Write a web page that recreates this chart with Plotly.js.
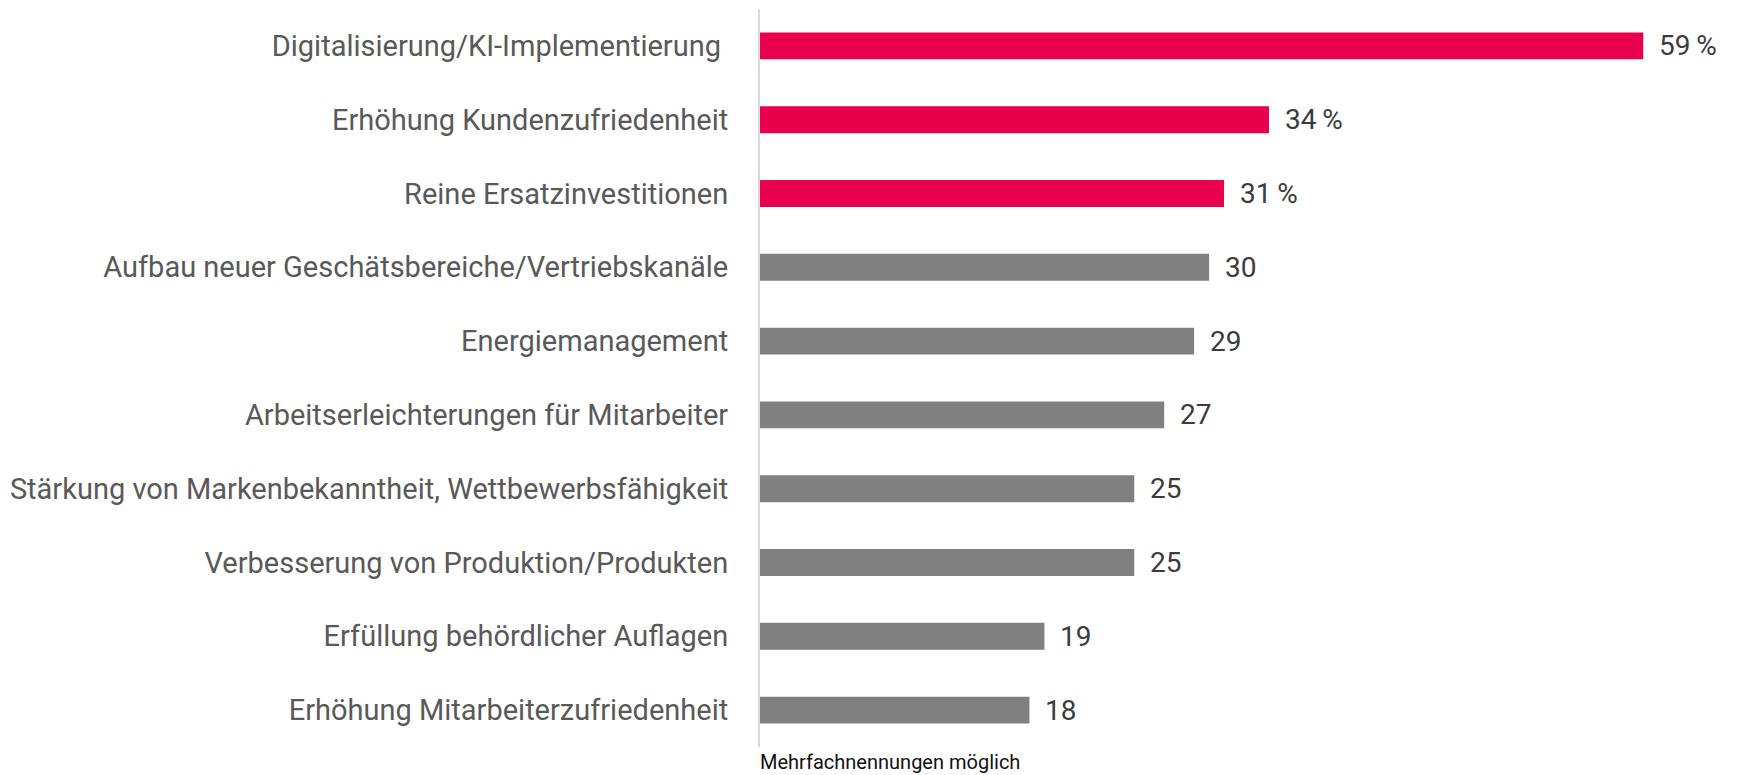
<!DOCTYPE html>
<html>
<head>
<meta charset="utf-8">
<script src="https://cdn.plot.ly/plotly-3.0.1.min.js"></script>
<style>html,body{margin:0;padding:0;background:#fff;}#chart{width:1739px;height:775px;}</style>
</head>
<body>
<div id="chart"></div>
<script>
const categories = [
  "Digitalisierung/KI-Implementierung\u00a0",
  "Erhöhung Kundenzufriedenheit",
  "Reine Ersatzinvestitionen",
  "Aufbau neuer Geschätsbereiche/Vertriebskanäle",
  "Energiemanagement",
  "Arbeitserleichterungen für Mitarbeiter",
  "Stärkung von Markenbekanntheit, Wettbewerbsfähigkeit",
  "Verbesserung von Produktion/Produkten",
  "Erfüllung behördlicher Auflagen",
  "Erhöhung Mitarbeiterzufriedenheit"
];
const values = [59, 34, 31, 30, 29, 27, 25, 25, 19, 18];
const valueLabels = ["59\u2009%", "34\u2009%", "31\u2009%", "30", "29", "27", "25", "25", "19", "18"];
const highlighted = [true, true, true, false, false, false, false, false, false, false];
const note = "Mehrfachnennungen möglich";

const RED = "#E8004C", GREY = "#808080";
const FONT = "Roboto, 'Open Sans', sans-serif";

const trace = {
  type: "bar",
  orientation: "h",
  x: values,
  y: categories,
  marker: { color: highlighted.map(h => h ? RED : GREY) },
  hoverinfo: "skip",
  width: 0.365
};

const annotations = values.map((v, i) => ({
  x: v, y: categories[i], xref: "x", yref: "y",
  text: valueLabels[i], showarrow: false,
  xanchor: "left", yanchor: "middle", xshift: 14,
  font: { family: FONT, size: 28, color: "#3c3c3c" }
}));
annotations.push({
  x: 0, y: 0, xref: "paper", yref: "paper", yanchor: "middle", xanchor: "left",
  yshift: -15, xshift: -2,
  text: note, showarrow: false,
  font: { family: FONT, size: 20, color: "#111111" }
});

const layout = {
  width: 1739, height: 775,
  margin: { l: 760, r: 10, t: 9, b: 28 },
  paper_bgcolor: "#ffffff", plot_bgcolor: "#ffffff",
  showlegend: false,
  xaxis: { range: [0, 64.73], visible: false, showgrid: false, zeroline: false, fixedrange: true },
  yaxis: {
    type: "category",
    categoryorder: "array", categoryarray: categories,
    autorange: "reversed",
    showline: true, linecolor: "#d9d9d9", linewidth: 2,
    showgrid: false, zeroline: false, ticks: "",
    ticklabelstandoff: 24,
    tickfont: { family: FONT, size: 29, color: "#595959" },
    fixedrange: true
  },
  annotations: annotations
};

Plotly.newPlot("chart", [trace], layout, { displayModeBar: false, staticPlot: true });
</script>
</body>
</html>
